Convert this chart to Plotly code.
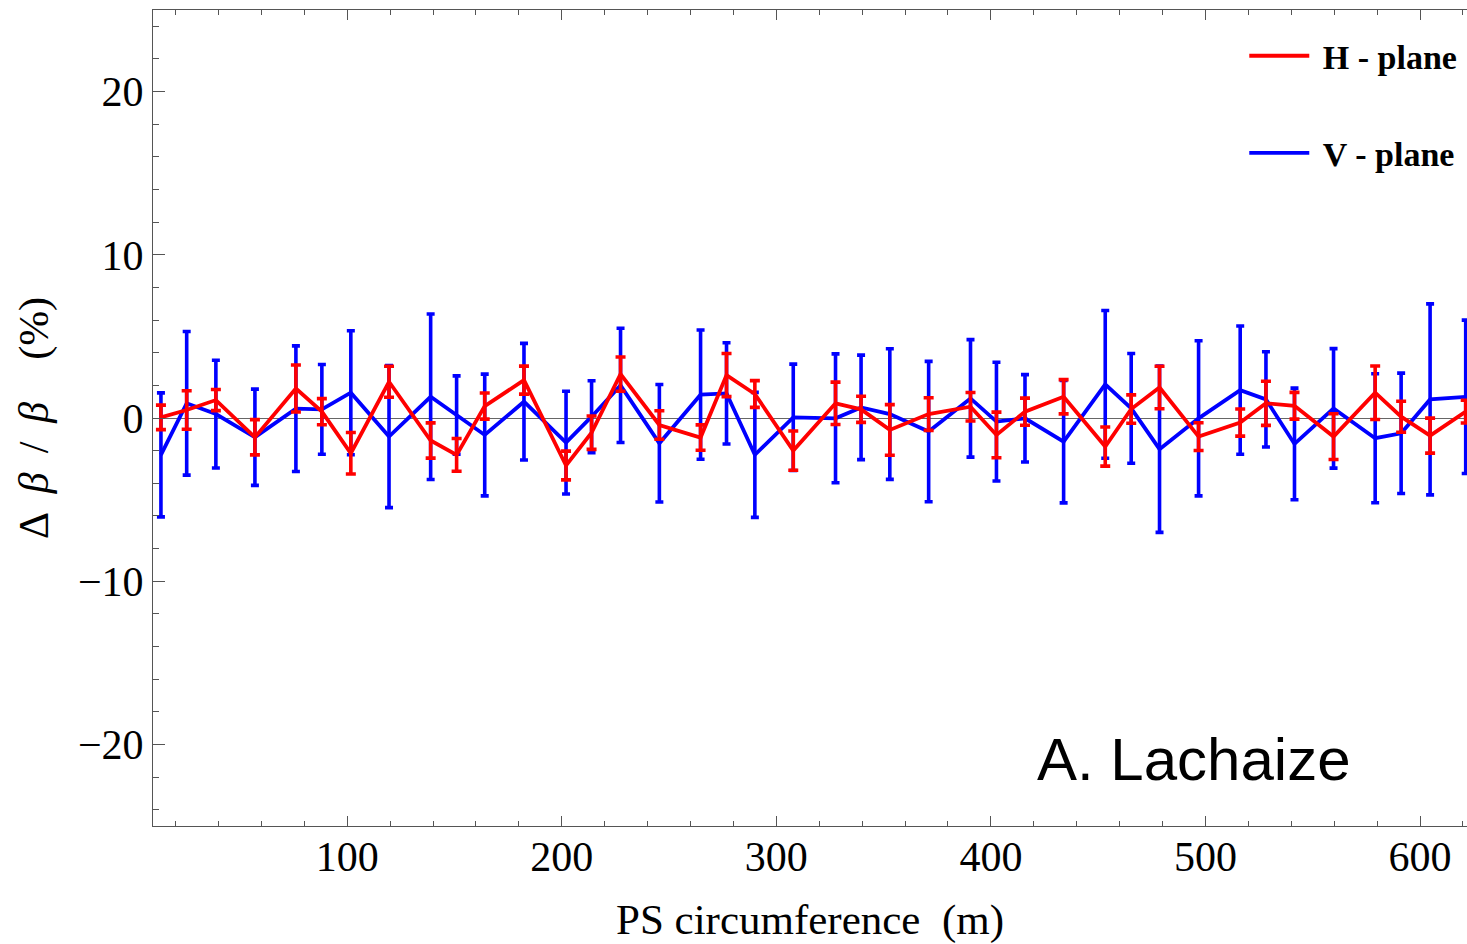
import plotly.graph_objects as go

# Positions along the PS circumference (m)
position_m = [13.2, 25.2, 38.8, 57.0, 76.1, 88.2, 101.7, 119.5, 138.9, 151.0,
              164.1, 182.4, 202.0, 213.9, 227.4, 245.5, 264.7, 276.8, 290.0, 307.9,
              327.6, 339.5, 352.9, 371.0, 390.5, 402.6, 415.9, 433.9, 453.3, 465.4,
              478.6, 496.8, 516.2, 528.2, 541.5, 559.7, 579.1, 591.2, 604.7, 621.3]

# H-plane beta-beat (%) and error
h_beat = [0.04, 0.49, 1.10, -1.18, 1.81, 0.39, -2.16, 2.22, -1.38, -2.26,
          0.73, 2.32, -2.91, -0.90, 2.69, -0.43, -1.20, 2.63, 1.47, -2.00,
          0.90, 0.53, -0.73, 0.24, 0.69, -1.04, 0.39, 1.30, -1.75, 0.55,
          1.87, -1.14, -0.28, 0.90, 0.75, -1.14, 1.55, 0.08, -1.08, 0.39]
h_err = [0.75, 1.18, 0.65, 1.08, 1.44, 0.80, 1.27, 0.95, 1.08, 1.00,
         0.80, 0.86, 0.88, 1.02, 1.05, 0.87, 0.78, 1.32, 0.82, 1.20,
         1.30, 0.80, 1.55, 1.00, 0.87, 1.40, 0.83, 1.05, 1.20, 0.87,
         1.30, 0.85, 0.83, 1.35, 0.82, 1.40, 1.64, 0.95, 1.07, 0.70]

# V-plane beta-beat (%) and error
v_beat = [-2.26, 0.90, 0.24, -1.18, 0.57, 0.53, 1.55, -1.14, 1.30, 0.18,
          -1.04, 1.00, -1.51, 0.08, 2.00, -1.55, 1.43, 1.51, -2.26, 0.04,
          -0.02, 0.65, 0.24, -0.83, 1.20, -0.22, -0.02, -1.45, 2.06, 0.59,
          -1.91, -0.02, 1.71, 1.14, -1.59, 0.59, -1.24, -0.94, 1.14, 1.30]
v_err = [3.80, 4.40, 3.30, 2.95, 3.85, 2.75, 3.80, 4.35, 5.07, 2.40,
         3.73, 3.57, 3.15, 2.20, 3.50, 3.60, 3.96, 3.10, 3.83, 3.26,
         3.95, 3.20, 4.00, 4.30, 3.60, 3.64, 2.68, 3.75, 4.53, 3.36,
         5.10, 4.75, 3.93, 2.92, 3.42, 3.66, 3.95, 3.69, 5.85, 4.70]

x_ticks = [100, 200, 300, 400, 500, 600]
y_ticks = [-20, -10, 0, 10, 20]

RED = "#ff0000"
BLUE = "#0000ff"

fig = go.Figure()

fig.add_trace(go.Scatter(
    x=position_m, y=v_beat, mode="lines", name="\u00a0V - plane",
    line=dict(color=BLUE, width=3.8),
    error_y=dict(type="data", array=v_err, visible=True, color=BLUE,
                 thickness=3.6, width=4),
    legendgroup="v", legendrank=2,
))
fig.add_trace(go.Scatter(
    x=position_m, y=h_beat, mode="lines", name="\u00a0H - plane",
    line=dict(color=RED, width=3.8),
    error_y=dict(type="data", array=h_err, visible=True, color=RED,
                 thickness=3.6, width=5),
    legendgroup="h", legendrank=1,
))

serif = "Liberation Serif"
axis_col = "#555555"

ytitle = ("\u0394\u2009\u00a0<i>\u03b2</i>\u2009\u00a0/\u2009\u00a0<i>\u03b2</i>"
          "\u2003(%)")

fig.update_layout(
    width=1467, height=944,
    margin=dict(l=153, r=0, t=10, b=118),
    paper_bgcolor="white", plot_bgcolor="white",
    showlegend=True,
    legend=dict(x=0.8305, y=0.979, xanchor="left", yanchor="top",
                bgcolor="rgba(0,0,0,0)", traceorder="grouped",
                tracegroupgap=50, itemwidth=60,
                font=dict(family=serif, size=34, color="black", weight="bold")),
    xaxis=dict(
        range=[9.5, 621.9], tickvals=x_ticks,
        ticks="inside", ticklen=10, tickwidth=1, tickcolor=axis_col,
        minor=dict(dtick=20, tick0=0, ticks="inside", ticklen=5, tickwidth=1,
                   tickcolor=axis_col, showgrid=False),
        showline=True, linecolor=axis_col, linewidth=1, mirror="ticks",
        showgrid=False, zeroline=False,
        ticklabelstandoff=-6,
        tickfont=dict(family=serif, size=42, color="black"),
        title=dict(text="PS circumference\u00a0\u00a0(m)", standoff=24,
                   font=dict(family=serif, size=43, color="black")),
    ),
    yaxis=dict(
        range=[-25, 25], tickvals=y_ticks,
        ticktext=["\u221220", "\u221210", "0", "10", "20"],
        ticks="inside", ticklen=12, tickwidth=1, tickcolor=axis_col,
        minor=dict(dtick=2, tick0=0, ticks="inside", ticklen=6, tickwidth=1,
                   tickcolor=axis_col, showgrid=False),
        showline=True, linecolor=axis_col, linewidth=1, mirror=False,
        showgrid=False, zeroline=True, zerolinecolor="#666666", zerolinewidth=1,
        tickfont=dict(family=serif, size=42, color="black"),
        title=dict(text=ytitle, standoff=16,
                   font=dict(family=serif, size=42, color="black")),
    ),
    annotations=[dict(
        text="A. Lachaize", xref="paper", yref="paper", x=0.7925, y=0.081,
        xanchor="center", yanchor="middle", showarrow=False,
        font=dict(family="Liberation Sans", size=60, color="black"),
    )],
)

fig.write_html("out.html")
